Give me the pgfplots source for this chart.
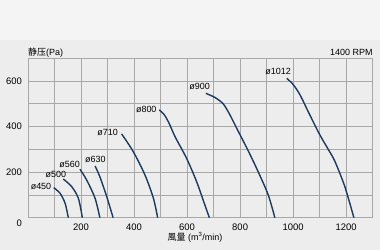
\documentclass[border=0pt]{standalone}
\usepackage{pgfplots}
\pgfplotsset{compat=1.18}
\usepackage{fontspec}
\setmainfont{Liberation Sans}
\newfontfamily\cjk{Noto Sans CJK SC}
\definecolor{bgtop}{HTML}{F4F4F4}
\definecolor{bgmain}{HTML}{EDEDED}
\definecolor{gridc}{HTML}{A8A8A8}
\definecolor{curve}{HTML}{1B3A5E}
\tikzset{fan/.style={draw=curve, line width=1.4bp, smooth, solid, mark=none}}
\begin{document}
\begin{tikzpicture}[x=1bp,y=1bp]
\fill[bgmain] (0,0) rectangle (380,250);
\fill[bgtop] (0,210) rectangle (380,250);
\begin{axis}[
  at={(28bp,32.3bp)}, anchor=south west,
  width=344.7bp, height=159.4bp, scale only axis,
  xmin=0, xmax=1300, ymin=0, ymax=700,
  xtick={200,400,...,1200}, ytick={200,400,600},
  minor xtick={0,100,...,1300}, minor ytick={0,100,...,700},
  grid=both,
  major grid style={gridc, line width=0.7bp},
  minor grid style={gridc, line width=0.7bp},
  axis line style={gridc, line width=0.7bp},
  major tick length=0pt, minor tick length=0pt,
  tick style={draw=none},
  /pgf/number format/assume math mode=true,
  /pgf/number format/1000 sep={},
  ticklabel style={font=\fontsize{9.5}{10}\selectfont, inner sep=0pt},
  yticklabel style={anchor=east, xshift=-6bp},
  xticklabel style={anchor=north, yshift=-6bp},
  axis background/.style={fill=bgmain},
  clip=false,
]
\addplot[fan] coordinates {(97,132) (121,107) (140,63) (152,0)};
\addplot[fan] coordinates {(133,170) (165,136) (190,85) (205,0)};
\addplot[fan] coordinates {(196,213) (221,166) (253,85) (271,0)};
\addplot[fan] coordinates {(253,227) (271,180) (297,92) (321,0)};
\addplot[fan] coordinates {(353,368) (397,290) (441,188) (473,85) (489,0)};
\addplot[fan] coordinates {(495,473) (512,455) (530,420) (555,355) (598,261) (636,158) (667,56) (684,0)};
\addplot[fan] coordinates {(671,546) (705,528) (736,500) (760,455) (787,393) (830,295) (868,202) (906,100) (931,0)};
\addplot[fan] coordinates {(976,612) (1000,585) (1026,539) (1063,451) (1101,363) (1135,295) (1158,246) (1195,136) (1229,0)};
\begin{scope}[every node/.style={font=\fontsize{9}{10}\selectfont, inner sep=0pt}]
\node at (axis cs:49,136) {ø450};
\node at (axis cs:105,188) {ø500};
\node at (axis cs:157,232) {ø560};
\node at (axis cs:254,254) {ø630};
\node at (axis cs:300,375) {ø710};
\node at (axis cs:446,476) {ø800};
\node at (axis cs:647,576) {ø900};
\node at (axis cs:943,642) {ø1012};
\end{scope}
\end{axis}
\node[anchor=east, inner sep=0pt, font=\fontsize{9.5}{10}\selectfont] at (22,26.7) {0};
\node[anchor=west, inner sep=0pt, font=\fontsize{9}{10}\selectfont] at (28,197.7) {{\cjk 静压}(Pa)};
\node[anchor=east, inner sep=0pt, font=\fontsize{9}{10}\selectfont] at (372.7,197.7) {1400 RPM};
\node[inner sep=0pt, font=\fontsize{9}{10}\selectfont] at (195,13) {{\cjk 風量} (m\textsuperscript{3}/min)};
\end{tikzpicture}
\end{document}
